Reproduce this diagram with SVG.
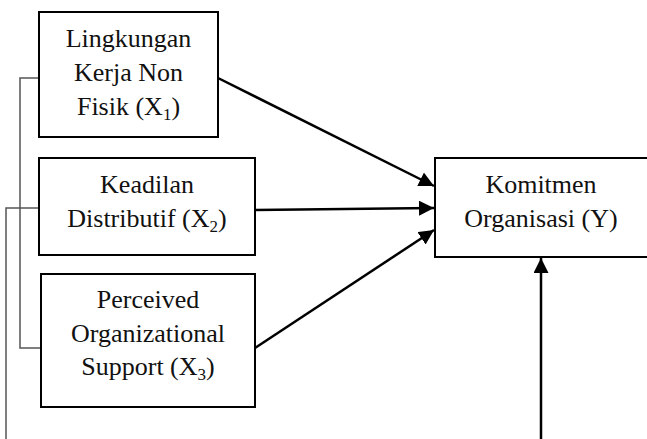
<svg xmlns="http://www.w3.org/2000/svg" width="647" height="439" viewBox="0 0 647 439">
<style>
.box{fill:#fff;stroke:#000;stroke-width:2}
.t{font-family:"Liberation Serif","Times New Roman",serif;font-size:26px;fill:#111;text-anchor:middle}
.sub{font-size:17px}
.br{fill:none;stroke:#555;stroke-width:1.5}
.ar{fill:none;stroke:#000;stroke-width:2.5}
</style>
<defs>
<marker id="ah" viewBox="0 0 10 10" refX="10" refY="5" markerWidth="6" markerHeight="6" markerUnits="strokeWidth" orient="auto">
<path d="M0,0 L10,5 L0,10 z" fill="#000"/>
</marker>
</defs>
<g id="connectors">
<polyline class="br" points="39,78 20,78 20,348 41,348"/>
<polyline class="br" points="39,208 6,208 6,439"/>
<line class="ar" x1="218" y1="78" x2="434" y2="186" marker-end="url(#ah)"/>
<line class="ar" x1="255" y1="210" x2="434" y2="208" marker-end="url(#ah)"/>
<line class="ar" x1="255" y1="348" x2="434" y2="230" marker-end="url(#ah)"/>
<line class="ar" x1="541" y1="439" x2="541" y2="258" marker-end="url(#ah)"/>
</g>
<g id="x1">
<rect class="box" x="39" y="12" width="179" height="125"/>
<text class="t" x="128.5" y="47">Lingkungan</text>
<text class="t" x="128.5" y="81">Kerja Non</text>
<text class="t" x="128.5" y="115">Fisik (X<tspan class="sub" dy="5">1</tspan><tspan dy="-5">)</tspan></text>
</g>
<g id="x2">
<rect class="box" x="39" y="158" width="216" height="97"/>
<text class="t" x="147" y="193">Keadilan</text>
<text class="t" x="147" y="227">Distributif (X<tspan class="sub" dy="5">2</tspan><tspan dy="-5">)</tspan></text>
</g>
<g id="x3">
<rect class="box" x="41" y="274" width="214" height="133"/>
<text class="t" x="148" y="308">Perceived</text>
<text class="t" x="148" y="342">Organizational</text>
<text class="t" x="148" y="375">Support (X<tspan class="sub" dy="5">3</tspan><tspan dy="-5">)</tspan></text>
</g>
<g id="y">
<rect class="box" x="435" y="158" width="220" height="99"/>
<text class="t" x="541" y="193">Komitmen</text>
<text class="t" x="541" y="227">Organisasi (Y)</text>
</g>
</svg>
